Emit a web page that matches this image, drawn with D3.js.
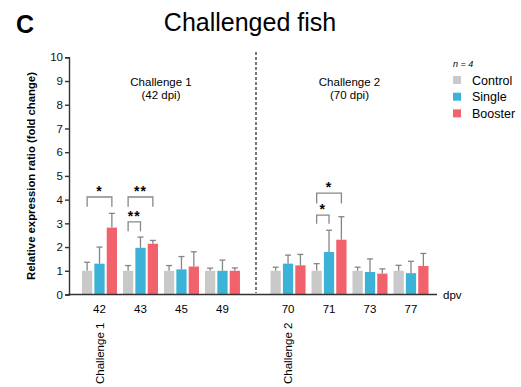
<!DOCTYPE html>
<html>
<head>
<meta charset="utf-8">
<script src="https://cdn.jsdelivr.net/npm/d3@7"></script>
<style>
  body { margin: 0; background: #fff; }
  text { font-family: "Liberation Sans", Arial, sans-serif; }
</style>
</head>
<body>
<svg id="chart" width="521" height="387"></svg>
<script>
// data
var days = ["42", "43", "45", "49", "70", "71", "73", "77"]
var challenge = [1, 1, 1, 1, 2, 2, 2, 2]
var seriesNames = ["Control", "Single", "Booster"]
var seriesColors = ["#c9c9c9", "#3cb3d6", "#f2626d"]
var controlMean = [1.0, 1.0, 1.0, 1.0, 1.0, 1.0, 1.0, 1.0]
var controlErr = [1.36, 1.22, 1.22, 1.11, 1.15, 1.3, 1.15, 1.23]
var singleMean = [1.3, 1.97, 1.06, 1.0, 1.3, 1.79, 0.95, 0.9]
var singleErr = [2.0, 2.42, 1.6, 1.45, 1.66, 2.71, 1.5, 1.4]
var boosterMean = [2.82, 2.14, 1.18, 1.0, 1.23, 2.31, 0.88, 1.2]
var boosterErr = [3.42, 2.28, 1.8, 1.12, 1.69, 3.28, 1.08, 1.73]
var yTicks = [0, 1, 2, 3, 4, 5, 6, 7, 8, 9, 10]
// significance brackets: group, from series, to series, bracket level, leg bottom, label
var sigGroup = ["42", "43", "43", "71", "71"]
var sigFrom = [0, 0, 0, 0, 0]
var sigTo = [2, 2, 1, 2, 1]
var sigTop = [4.11, 4.11, 3.06, 4.27, 3.35]
var sigLeg = [3.7, 3.7, 2.67, 3.84, 2.98]
var sigLabel = ["*", "**", "**", "*", "*"]

var means = [controlMean, singleMean, boosterMean]
var errs = [controlErr, singleErr, boosterErr]

var svg = d3.select("#chart")

function slot(i) {
    return i + (challenge[i] == 2 ? 0.6 : 0)
}

var xScale = d3.scaleLinear().domain([0, 7.6]).range([99.5, 411])
var inner = d3.scaleBand().domain([0, 1, 2]).range([-17.5, 17.5]).paddingInner(0.17)
var yScale = d3.scaleLinear().domain([0, 10]).range([294.5, 57.3])

var rows = []
for (var i = 0; i < days.length; i++) {
    for (var s = 0; s < 3; s++) {
        rows.push({ day: days[i], idx: i, s: s, mean: means[s][i], err: errs[s][i] })
    }
}

// error bars (upper only)
var eb = svg.append("g").attr("stroke", "#858585").attr("stroke-width", 1.3)
rows.forEach(function (d) {
    var cx = xScale(slot(d.idx)) + inner(d.s) + inner.bandwidth() / 2
    eb.append("line").attr("x1", cx).attr("x2", cx)
        .attr("y1", yScale(d.mean)).attr("y2", yScale(d.err))
    eb.append("line").attr("x1", cx - 3).attr("x2", cx + 3)
        .attr("y1", yScale(d.err)).attr("y2", yScale(d.err))
})

svg.append("g").selectAll("rect")
    .data(rows)
    .enter().append("rect")
    .attr("x", function (d) { return xScale(slot(d.idx)) + inner(d.s) })
    .attr("width", inner.bandwidth())
    .attr("y", function (d) { return yScale(d.mean) })
    .attr("height", function (d) { return yScale(0) - yScale(d.mean) })
    .attr("fill", function (d) { return seriesColors[d.s] })

// significance brackets
var sg = svg.append("g")
for (var k = 0; k < sigGroup.length; k++) {
    var gi = days.indexOf(sigGroup[k])
    var base = xScale(slot(gi))
    var xa = base + inner(sigFrom[k]) + inner.bandwidth() / 2
    var xb = base + inner(sigTo[k]) + inner.bandwidth() / 2
    sg.append("path")
        .attr("d", "M" + xa + "," + yScale(sigLeg[k]) + "V" + yScale(sigTop[k]) +
            "H" + xb + "V" + yScale(sigLeg[k]))
        .attr("fill", "none").attr("stroke", "#888").attr("stroke-width", 1.3)
    sg.append("text")
        .attr("x", (xa + xb) / 2).attr("y", yScale(sigTop[k]) - 1)
        .attr("text-anchor", "middle")
        .style("font-size", "14px").style("font-weight", "bold")
        .style("letter-spacing", "1px")
        .text(sigLabel[k])
}

// axes
var yAxis = svg.append("g")
    .attr("transform", "translate(69,0)")
    .call(d3.axisLeft(yScale).tickValues(yTicks).tickSize(4).tickPadding(2))
yAxis.selectAll("path, line").attr("stroke", "#333").attr("stroke-width", 1.4)
yAxis.selectAll("text").style("font-size", "11.5px").attr("fill", "#111")

svg.append("line")
    .attr("x1", 68.3).attr("x2", 437)
    .attr("y1", yScale(0)).attr("y2", yScale(0))
    .attr("stroke", "#333").attr("stroke-width", 1.4)

svg.append("text").attr("x", 443).attr("y", yScale(0) + 4)
    .style("font-size", "11.5px").text("dpv")

svg.append("g").selectAll("text")
    .data(days)
    .enter().append("text")
    .attr("x", function (d, i) { return xScale(slot(i)) })
    .attr("y", 313)
    .attr("text-anchor", "middle")
    .style("font-size", "11.5px")
    .text(function (d) { return d })

// challenge labels under first day of each challenge
var starts = [0, 4]
starts.forEach(function (i) {
    svg.append("text")
        .attr("transform", "translate(" + (xScale(slot(i)) + 4) + ",384) rotate(-90)")
        .style("font-size", "11.5px")
        .text("Challenge " + challenge[i])
})

// dashed divider
svg.append("line")
    .attr("x1", 256).attr("x2", 256)
    .attr("y1", 52).attr("y2", 293)
    .attr("stroke", "#222").attr("stroke-width", 1.2)
    .attr("stroke-dasharray", "3,2")

// panel annotations
var notes = [["Challenge 1", "(42 dpi)", 1.5], ["Challenge 2", "(70 dpi)", 6.1]]
notes.forEach(function (n) {
    var t = svg.append("text").attr("text-anchor", "middle").style("font-size", "11.5px")
    t.append("tspan").attr("x", xScale(n[2])).attr("y", 86).text(n[0])
    t.append("tspan").attr("x", xScale(n[2])).attr("y", 99).text(n[1])
})

// y label
svg.append("text")
    .attr("transform", "translate(35," + 176 + ") rotate(-90)")
    .attr("text-anchor", "middle")
    .style("font-size", "11.3px").style("font-weight", "bold")
    .text("Relative expression ratio (fold change)")

// titles
svg.append("text").attr("x", 16).attr("y", 33)
    .style("font-size", "25px").style("font-weight", "bold").text("C")
svg.append("text").attr("x", 250).attr("y", 31)
    .attr("text-anchor", "middle")
    .style("font-size", "25px").text("Challenged fish")

// legend
svg.append("text").attr("x", 453).attr("y", 67)
    .style("font-size", "9px").style("font-style", "italic").text("n = 4")
var lg = svg.append("g")
seriesNames.forEach(function (name, i) {
    lg.append("rect").attr("x", 453).attr("y", 76 + i * 16.7)
        .attr("width", 8).attr("height", 8).attr("fill", seriesColors[i])
    lg.append("text").attr("x", 472).attr("y", 84.5 + i * 16.7)
        .style("font-size", "12.5px").text(name)
})
</script>
</body>
</html>
